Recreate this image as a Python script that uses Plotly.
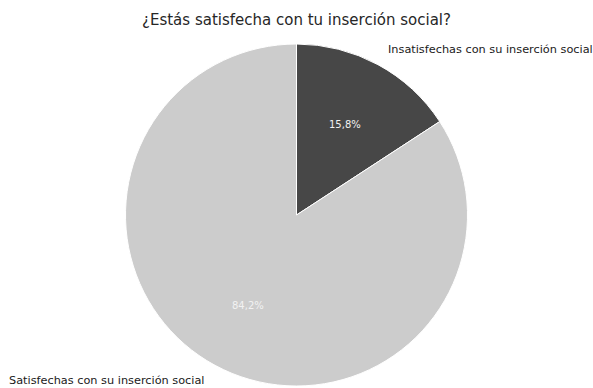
import math
import plotly.graph_objects as go

# Survey answers: share of respondents per group
categories = ["Insatisfechas con su inserción social", "Satisfechas con su inserción social"]
values = [15.8, 84.2]
colors = ["#474747", "#cccccc"]
title_text = "¿Estás satisfecha con tu inserción social?"

W, H = 593, 388
M_TOP, M_BOT = 44, 2
plot_h = H - M_TOP - M_BOT          # pie diameter is limited by height
radius_px = plot_h / 2.0
rx = radius_px / W                   # radius in paper x units
ry = 0.5                             # radius in paper y units

FONT = "DejaVu Sans"

fig = go.Figure(
    go.Pie(
        labels=categories,
        values=values,
        sort=False,
        direction="clockwise",
        rotation=0,
        marker=dict(colors=colors, line=dict(color="white", width=1)),
        textinfo="none",
        hoverinfo="label+percent",
        showlegend=False,
        domain=dict(x=[0, 1], y=[0, 1]),
    )
)

total = sum(values)
annotations = []
start = 0.0
for cat, val in zip(categories, values):
    frac = val / total
    mid = (start + frac / 2) * 2 * math.pi   # clockwise from 12 o'clock
    start += frac
    sx, cy = math.sin(mid), math.cos(mid)

    # percentage inside the slice
    pct = f"{100 * frac:.1f}%".replace(".", ",")
    annotations.append(dict(
        x=0.5 + 0.6 * rx * sx, y=0.5 + 0.6 * ry * cy,
        xref="paper", yref="paper", text=pct, showarrow=False,
        xanchor="center", yanchor="middle",
        font=dict(family=FONT, size=10, color="#f2f2f2"),
    ))
    # category label outside the pie
    annotations.append(dict(
        x=0.5 + 1.1 * rx * sx, y=0.5 + 1.1 * ry * cy,
        xref="paper", yref="paper", text=cat, showarrow=False,
        xanchor="left" if sx > 0 else "right", yanchor="middle",
        font=dict(family=FONT, size=11.3, color="#1a1a1a"),
    ))

fig.update_layout(
    width=W, height=H,
    margin=dict(l=0, r=0, t=M_TOP, b=M_BOT),
    paper_bgcolor="white",
    plot_bgcolor="white",
    title=dict(
        text=title_text, x=0.5, xanchor="center", y=1 - 20 / H, yanchor="middle",
        font=dict(family=FONT, size=15, color="#262626"),
    ),
    annotations=annotations,
)

fig.write_html("out.html")
